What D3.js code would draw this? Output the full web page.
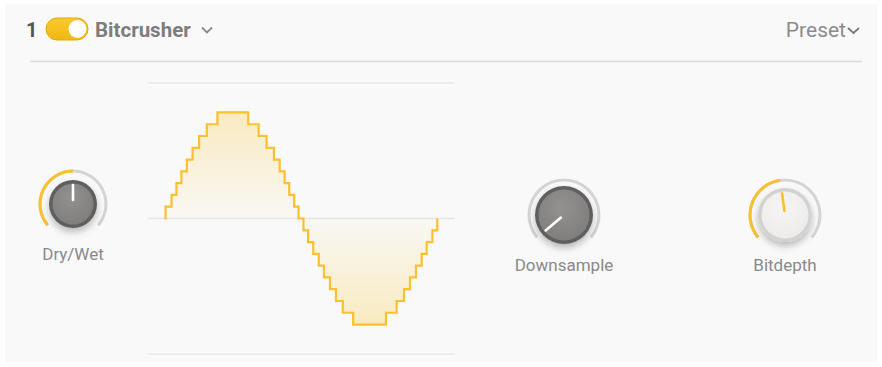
<!DOCTYPE html>
<html lang="en">
<head>
    <meta charset="UTF-8">
    <title>Bitcrusher</title>
    <script src="https://d3js.org/d3.v7.min.js"></script>
    <style>
        body { margin: 0; background: #fff; font-family: Roboto, "Noto Sans", sans-serif; }
        .label { fill: #898989; font-size: 17px; text-anchor: middle; }
        .grid { stroke: #e7e7e7; stroke-width: 1.3px; }
    </style>
</head>
<body>
    <svg width="882" height="367"></svg>
    <script>
        // waveform: phase of each step edge (one period = 1) and the quantized level after it
        const stepPhase = [0, 0.004, 0.026, 0.044, 0.062, 0.082, 0.103, 0.127, 0.155, 0.194,
            0.307, 0.345, 0.374, 0.401, 0.422, 0.440, 0.457, 0.475, 0.491, 0.509, 0.526, 0.545,
            0.565, 0.584, 0.606, 0.628, 0.653, 0.691,
            0.811, 0.850, 0.877, 0.899, 0.921, 0.942, 0.960, 0.981, 0.999];
        const stepLevel = [0, 1, 2, 3, 4, 5, 6, 7, 8, 9,
            8, 7, 6, 5, 4, 3, 2, 1, 0, -1, -2, -3,
            -4, -5, -6, -7, -8, -9,
            -8, -7, -6, -5, -4, -3, -2, -1, 0];
        const gridLevels = [-11.5, 0, 11.5];

        // knobs
        const knobNames = ['Dry/Wet', 'Downsample', 'Bitdepth'];
        const knobValues = [0.5, 0, 0.47];

        const width = 882, height = 367;
        const svg = d3.select('svg');
        const defs = svg.append('defs');

        // panel
        svg.append('rect').attr('x', 5).attr('y', 4).attr('width', 872).attr('height', 359)
            .attr('fill', '#f9f9f9');

        // header
        svg.append('text').attr('x', 26).attr('y', 37).attr('fill', '#555')
            .attr('font-size', 20).attr('font-weight', 700).text('1');

        const tg = defs.append('linearGradient').attr('id', 'tog').attr('x1', 0).attr('y1', 0).attr('x2', 0).attr('y2', 1);
        tg.append('stop').attr('offset', 0).attr('stop-color', '#fbc930');
        tg.append('stop').attr('offset', 1).attr('stop-color', '#f1b70f');
        svg.append('rect').attr('x', 46).attr('y', 18).attr('width', 42).attr('height', 22).attr('rx', 11)
            .attr('fill', 'url(#tog)').attr('stroke', '#e3a90a').attr('stroke-width', 1);
        svg.append('circle').attr('cx', 77.5).attr('cy', 29).attr('r', 9).attr('fill', '#fff');

        svg.append('text').attr('x', 95).attr('y', 37).attr('fill', '#7d7d7d')
            .attr('font-size', 20.5).attr('font-weight', 700).text('Bitcrusher');
        svg.append('path').attr('d', 'M202,27.5 L207,32.5 L212,27.5').attr('fill', 'none')
            .attr('stroke', '#8a8a8a').attr('stroke-width', 1.8);

        svg.append('text').attr('x', 846).attr('y', 37).attr('fill', '#8c8c8c')
            .attr('font-size', 21).attr('text-anchor', 'end').text('Preset');
        svg.append('path').attr('d', 'M848,28 L853.5,33 L859,28').attr('fill', 'none')
            .attr('stroke', '#7a7a7a').attr('stroke-width', 1.8);

        svg.append('line').attr('x1', 30).attr('x2', 862).attr('y1', 61.5).attr('y2', 61.5)
            .attr('stroke', '#dcdcdc').attr('stroke-width', 1.3);

        // waveform scales
        const x = d3.scaleLinear().domain([-0.062, 1.062]).range([147.5, 454.5]);
        const y = d3.scaleLinear().domain([-11.5, 11.5]).range([354, 83]);

        svg.append('g').selectAll('line').data(gridLevels).join('line')
            .attr('class', 'grid')
            .attr('x1', x.range()[0]).attr('x2', x.range()[1])
            .attr('y1', d => y(d)).attr('y2', d => y(d));

        const pts = stepPhase.map((p, i) => ({ p: p, v: stepLevel[i] }));

        const fg = defs.append('linearGradient').attr('id', 'wfill').attr('gradientUnits', 'userSpaceOnUse')
            .attr('x1', 0).attr('x2', 0).attr('y1', y(9)).attr('y2', y(-9));
        fg.append('stop').attr('offset', 0).attr('stop-color', '#f8d772').attr('stop-opacity', 0.42);
        fg.append('stop').attr('offset', 0.5).attr('stop-color', '#f8d772').attr('stop-opacity', 0.04);
        fg.append('stop').attr('offset', 1).attr('stop-color', '#f8d772').attr('stop-opacity', 0.42);

        const area = d3.area().curve(d3.curveStepAfter)
            .x(d => x(d.p)).y0(y(0)).y1(d => y(d.v));
        const line = d3.line().curve(d3.curveStepAfter)
            .x(d => x(d.p)).y(d => y(d.v));

        svg.append('path').datum(pts).attr('d', area).attr('fill', 'url(#wfill)');
        svg.append('path').datum(pts).attr('d', line).attr('fill', 'none')
            .attr('stroke', '#fbc02d').attr('stroke-width', 2.2).attr('stroke-linejoin', 'miter');

        // knobs
        const knobLayout = [
            { cx: 73, cy: 204, r: 33, body: 24, dark: true, ly: 260 },
            { cx: 564, cy: 215, r: 35, body: 29, dark: true, ly: 271 },
            { cx: 785, cy: 215, r: 35, body: 27, dark: false, ly: 271 }
        ];
        const a0 = -130 * Math.PI / 180, a1 = 130 * Math.PI / 180;

        const sh = defs.append('filter').attr('id', 'shadow').attr('x', '-50%').attr('y', '-50%')
            .attr('width', '200%').attr('height', '200%');
        sh.append('feDropShadow').attr('dx', 0).attr('dy', 4).attr('stdDeviation', 3.5)
            .attr('flood-color', '#000').attr('flood-opacity', 0.26);

        const dg = defs.append('radialGradient').attr('id', 'darkface').attr('cx', '45%').attr('cy', '35%').attr('r', '70%');
        dg.append('stop').attr('offset', 0).attr('stop-color', '#93918f');
        dg.append('stop').attr('offset', 1).attr('stop-color', '#7f7d7b');
        const lg = defs.append('radialGradient').attr('id', 'lightface').attr('cx', '45%').attr('cy', '35%').attr('r', '70%');
        lg.append('stop').attr('offset', 0).attr('stop-color', '#f6f5f4');
        lg.append('stop').attr('offset', 1).attr('stop-color', '#ecebea');

        knobNames.forEach((name, i) => {
            const k = knobLayout[i];
            const g = svg.append('g').attr('transform', `translate(${k.cx},${k.cy})`);
            const arc = d3.arc().innerRadius(k.r - 1.5).outerRadius(k.r + 1.5);
            const av = a0 + (a1 - a0) * knobValues[i];
            g.append('path').attr('d', arc({ startAngle: a0, endAngle: a1 })).attr('fill', '#d4d4d4');
            if (knobValues[i] > 0) {
                g.append('path').attr('d', arc({ startAngle: a0, endAngle: av })).attr('fill', '#fbc02d');
            }
            g.append('circle').attr('r', k.body).attr('fill', k.dark ? '#615f5e' : '#d3d2d1')
                .attr('filter', 'url(#shadow)');
            g.append('circle').attr('r', k.body - 3.5).attr('fill', k.dark ? 'url(#darkface)' : 'url(#lightface)');
            const r1 = 4, r2 = k.body - 5;
            g.append('line')
                .attr('x1', r1 * Math.sin(av)).attr('y1', -r1 * Math.cos(av))
                .attr('x2', r2 * Math.sin(av)).attr('y2', -r2 * Math.cos(av))
                .attr('stroke', k.dark ? '#fff' : '#fbc02d').attr('stroke-width', 2.6)
                .attr('stroke-linecap', 'round');
            svg.append('text').attr('class', 'label').attr('x', k.cx).attr('y', k.ly).text(name);
        });
    </script>
</body>
</html>
